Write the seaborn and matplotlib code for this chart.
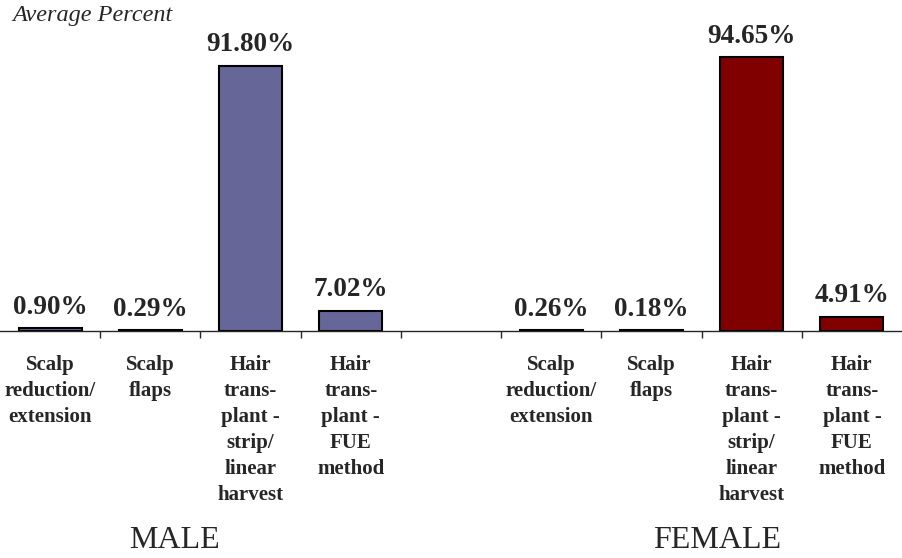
import matplotlib
matplotlib.use("Agg")
import matplotlib.pyplot as plt
import pandas as pd
import seaborn as sns

procedures = [
    "Scalp\nreduction/\nextension",
    "Scalp\nflaps",
    "Hair\ntrans-\nplant -\nstrip/\nlinear\nharvest",
    "Hair\ntrans-\nplant -\nFUE\nmethod",
]
male_pct = [0.90, 0.29, 91.80, 7.02]
female_pct = [0.26, 0.18, 94.65, 4.91]
groups = ["MALE", "FEMALE"]
colors = {"MALE": "#666699", "FEMALE": "#800000"}

rows = []
for i, (m, f) in enumerate(zip(male_pct, female_pct)):
    rows.append({"slot": f"M{i}", "Group": "MALE", "Percent": m})
    rows.append({"slot": f"F{i}", "Group": "FEMALE", "Percent": f})
df = pd.DataFrame(rows)
order = [f"M{i}" for i in range(4)] + ["gap"] + [f"F{i}" for i in range(4)]

sns.set_style("white")
plt.rcParams["font.family"] = ["Liberation Serif", "DejaVu Serif"]

fig = plt.figure(figsize=(9.02, 5.58), dpi=100)
ax = fig.add_axes([0.0, 1 - 331 / 558, 1.0, (331 - 42) / 558])

sns.barplot(
    data=df, x="slot", y="Percent", hue="Group", order=order,
    hue_order=groups, palette=colors, dodge=False, width=0.63,
    saturation=1, edgecolor="black", linewidth=1.5, legend=False, ax=ax,
)

for cont in ax.containers:
    ax.bar_label(cont, labels=[f"{v:.2f}%" for v in cont.datavalues],
                 padding=6, fontsize=19.5, fontweight="bold")

ax.set_ylim(0, 100)
ax.set_xlim(-0.5, 8.5)
ax.set_xlabel("")
ax.set_ylabel("")
ax.set_yticks([])
for s in ["top", "right", "left"]:
    ax.spines[s].set_visible(False)
ax.spines["bottom"].set_linewidth(1.0)

# category labels at bar centres, small ticks at slot boundaries
ax.set_xticks(range(9))
ax.set_xticklabels(procedures + [""] + procedures, fontsize=15,
                   fontweight="bold", linespacing=1.41, va="top")
ax.tick_params(axis="x", which="major", length=0, pad=17)
ax.set_xticks([i + 0.5 for i in range(8)], minor=True)
ax.tick_params(axis="x", which="minor", length=5, width=1, direction="out")
ax.xaxis.set_ticks_position("bottom")

fig.text(175 / 902, 1 - 541 / 558, groups[0], ha="center", va="center",
         fontsize=23)
fig.text(717 / 902, 1 - 541 / 558, groups[1], ha="center", va="center",
         fontsize=23)

fig.text(12 / 902, 1 - 15 / 558, "Average Percent", ha="left", va="center",
         fontsize=17.5, fontstyle="italic")

fig.savefig("out.png", dpi=100)
